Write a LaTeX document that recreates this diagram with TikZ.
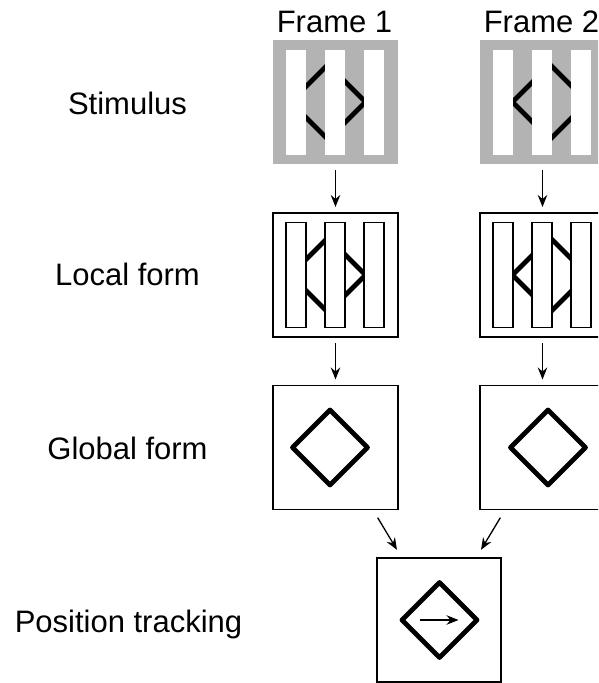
\documentclass[tikz,border=0pt]{standalone}
\usepackage{fontspec}
\setmainfont{Liberation Sans}
\usetikzlibrary{arrows.meta}
\definecolor{stimgray}{HTML}{B3B3B3}
\newcommand\mydiamond[3]{\draw[dia] (#1-#3,#2) -- (#1,#2-#3) -- (#1+#3,#2) -- (#1,#2+#3) -- cycle;}
\newcommand\mystripes[3]{\foreach \dx in {-49.5,-10.5,28.5}{\path[#3] (#1+\dx,#2-52.5) rectangle ++(20,105);}}
\begin{document}
\begin{tikzpicture}[x=1pt,y=-1pt,
  lbl/.style={font=\fontsize{31}{36}\selectfont, anchor=base, inner sep=0},
  panel/.style={minimum width=125pt, minimum height=124pt, inner sep=0, outer sep=0},
  framebox/.style={panel, draw, line width=1.3pt},
  stimbox/.style={panel, fill=stimgray},
  stripe/.style={fill=white},
  lstripe/.style={fill=white, draw, line width=1.2pt},
  dia/.style={line width=4.8pt, line join=round},
  arr/.style={-{Stealth[length=12pt,width=9.5pt,inset=4pt]}, line width=1.3pt},
  varr/.style={arr, shorten <=6pt, shorten >=6pt},
  darr/.style={arr, shorten <=9.5pt, shorten >=9.5pt}]
\useasboundingbox (0,0) rectangle (598,683);
\clip (0,0) rectangle (598,683);

% row labels
\node[lbl] (tstim) at (127.5,114) {Stimulus};
\node[lbl] (tloc) at (127.5,285) {Local form};
\node[lbl] (tglob) at (127.5,459) {Global form};
\node[lbl] (tpos) at (128.5,632.5) {Position tracking};
\node[lbl] (tf1) at (334.5,32) {Frame 1};
\node[lbl] (tf2) at (541.5,32) {Frame 2};

% stimulus row
\node[stimbox] (s1) at (335.5,102) {};
\node[stimbox] (s2) at (542.5,102) {};
\mydiamond{328}{102}{37.5}
\mydiamond{550}{102}{37.5}
\mystripes{335.5}{102}{stripe}
\mystripes{542.5}{102}{stripe}

% local form row
\node[framebox] (l1) at (335.5,275) {};
\node[framebox] (l2) at (542.5,275) {};
\mydiamond{328}{275}{37.5}
\mydiamond{550}{275}{37.5}
\mystripes{335.5}{275}{lstripe}
\mystripes{542.5}{275}{lstripe}

% global form row
\node[framebox] (g1) at (335.5,447.5) {};
\node[framebox] (g2) at (542.5,447.5) {};
\mydiamond{330}{447.5}{37.5}
\mydiamond{548}{447.5}{37.5}

% position tracking
\node[framebox, minimum width=124pt] (p) at (439,620) {};
\mydiamond{439.5}{620}{37.5}
\coordinate (pa) at (420,620);
\coordinate (pb) at (458.5,620);
\draw[arr] (pa) -- (pb);

% connectors
\draw[varr] (s1) -- (l1);
\draw[varr] (s2) -- (l2);
\draw[varr] (l1) -- (g1);
\draw[varr] (l2) -- (g2);
\draw[darr] (g1) -- (p);
\draw[darr] (g2) -- (p);
\end{tikzpicture}
\end{document}
